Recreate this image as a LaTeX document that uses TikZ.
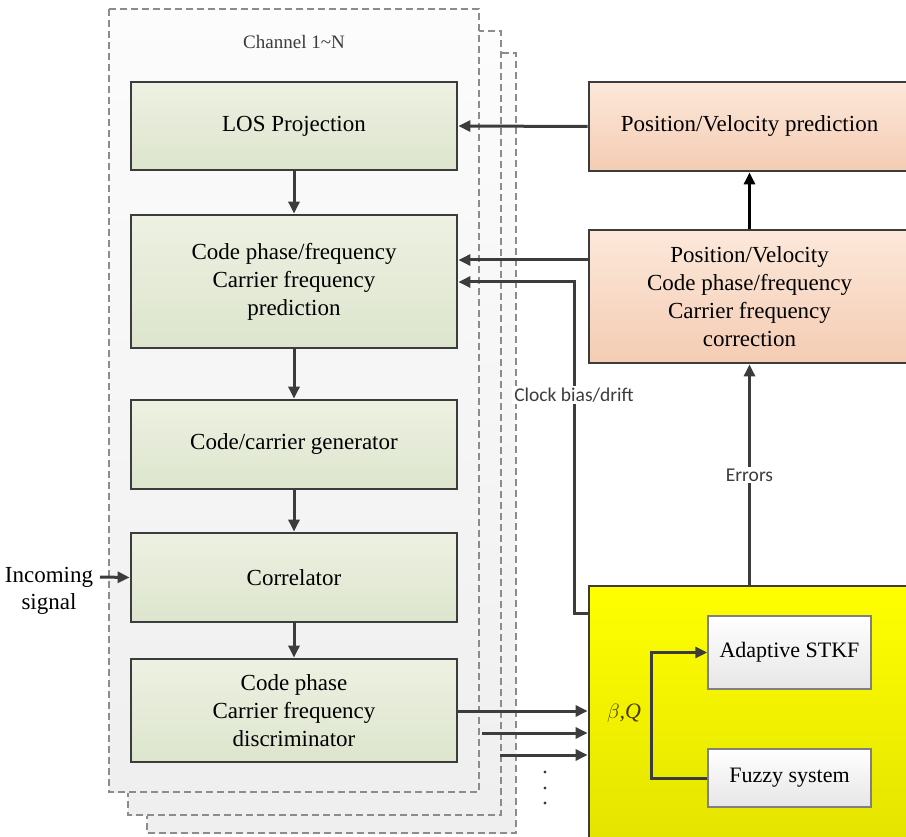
\documentclass[tikz,border=0pt]{standalone}
\usepackage{fontspec}
\setmainfont{Liberation Serif}
\newfontfamily\carl{Carlito}
\usetikzlibrary{arrows.meta}
\definecolor{linec}{HTML}{3C3C3C}
\definecolor{dashc}{HTML}{8C8C8C}
\definecolor{greenA}{HTML}{EDF1E2}
\definecolor{greenB}{HTML}{DDE5CD}
\definecolor{salA}{HTML}{FCE8DA}
\definecolor{salB}{HTML}{F4CCB3}
\definecolor{yelA}{HTML}{FFFF00}
\definecolor{yelB}{HTML}{E4E400}
\definecolor{chA}{HTML}{FCFCFC}
\definecolor{chB}{HTML}{EFEFEF}
\definecolor{wbB}{HTML}{E6E6E6}
\tikzset{
  chanbox/.style={draw=dashc, line width=1.5pt, dash pattern=on 7pt off 4pt, top color=chA, bottom color=chB},
  gbox/.style={draw=linec, line width=2.8pt, top color=greenA, bottom color=greenB, minimum width=326pt, align=center, inner sep=0pt, font=\fontsize{23}{28}\selectfont},
  sbox/.style={draw=linec, line width=2.8pt, top color=salA, bottom color=salB, minimum width=321pt, align=center, inner sep=0pt, font=\fontsize{23}{28}\selectfont},
  ybox/.style={draw=linec, line width=2.8pt, top color=yelA, bottom color=yelB, minimum width=321pt, inner sep=0pt},
  wbox/.style={draw=gray, line width=1.5pt, top color=white, bottom color=wbB, minimum width=163pt, align=center, inner sep=0pt, font=\fontsize{22}{28}\selectfont},
  arr/.style={draw=linec, line width=3pt, -{Triangle[length=12pt,width=11pt]}},
  lab/.style={font=\carl\fontsize{19.5}{22}\selectfont, fill=white, inner sep=2pt, text=linec},
}
\begin{document}
\begin{tikzpicture}[x=1pt,y=-1pt]
\useasboundingbox (0,0) rectangle (906,837);
% channel stack
\draw[chanbox] (147,53) rectangle (516,833);
\draw[chanbox] (128,31) rectangle (501,815);
\draw[chanbox] (109,9) rectangle (479,792);
\node[font=\fontsize{19}{22}\selectfont, text=linec] (chlab) at (294,42) {Channel 1\textasciitilde N};
% green boxes
\node[gbox, minimum height=88pt] (los) at (294,126) {LOS Projection};
\node[gbox, minimum height=133pt] (pred) at (294,281.5) {Code phase/frequency\\Carrier frequency\\prediction};
\node[gbox, minimum height=89pt] (gen) at (294,444.5) {Code/carrier generator};
\node[gbox, minimum height=89pt] (corr) at (294,577.5) {Correlator};
\node[gbox, minimum height=103pt] (disc) at (294,710.5) {Code phase\\Carrier frequency\\discriminator};
\draw[arr] (los.south) -- (pred.north);
\draw[arr] (pred.south) -- (gen.north);
\draw[arr] (gen.south) -- (corr.north);
\draw[arr] (corr.south) -- (disc.north);
% incoming signal
\node[align=center, font=\fontsize{23}{27}\selectfont] (inc) at (49,591) {Incoming\\signal};
\coordinate (incs) at (100,577);
\draw[arr] (incs) -- (corr.west);
% salmon boxes
\node[sbox, minimum height=89pt] (posp) at (749.5,126.5) {Position/Velocity prediction};
\node[sbox, minimum height=133pt] (corrn) at (749.5,296.5) {Position/Velocity\\Code phase/frequency\\Carrier frequency\\correction};
% yellow box
\node[ybox, minimum height=252pt] (yel) at (749.5,712) {};
\node[wbox, minimum height=73pt] (stkf) at (789.5,652.5) {Adaptive STKF};
\node[wbox, minimum height=58pt] (fuz) at (789.5,778) {Fuzzy system};
\coordinate (fz) at (651,778);
\draw[arr] (fuz.west) -- (fz) |- (stkf.west);
\node[font=\fontsize{22}{24}\selectfont\itshape, text={rgb,255:red,70;green,60;blue,0}] (bq) at (624,713) {$\beta$,Q};
% arrows right side
\draw[arr, draw=black] (corrn.north) -- (posp.south);
\draw[arr] (posp.west) -- (los.east);
\draw[arr] (corrn.west |- 0,260) -- (pred.east |- 0,260);
\coordinate (ck1) at (574,613);
\draw[arr] (yel.west |- ck1) -- (ck1) -- (ck1 |- 0,282) -- (pred.east |- 0,282);
\node[lab] (clk) at (574,395) {Clock bias/drift};
\draw[arr] (yel.north) -- (corrn.south);
\node[lab] (err) at (749.5,475) {Errors};
% inputs to yellow
\draw[arr] (disc.east |- 0,711) -- (yel.west |- 0,711);
\coordinate (in2) at (482,733);
\coordinate (in3) at (500,755);
\draw[arr] (in2) -- (yel.west |- in2);
\draw[arr] (in3) -- (yel.west |- in3);
\fill[linec] (545,772) circle (1.7pt) (545,788) circle (1.7pt) (545,803) circle (1.7pt);
\end{tikzpicture}
\end{document}
